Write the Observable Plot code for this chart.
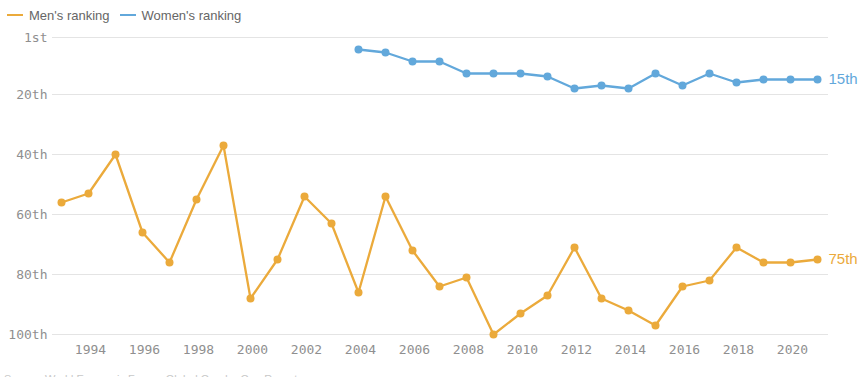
<!DOCTYPE html>
<html>
<head>
<meta charset="utf-8">
<script src="https://cdn.jsdelivr.net/npm/d3@7"></script>
<script src="https://cdn.jsdelivr.net/npm/@observablehq/plot@0.6"></script>
<style>
  html, body { margin: 0; padding: 0; background: #fff; }
  #legend { height: 28px; display: flex; align-items: center; font-family: "Liberation Sans", Arial, sans-serif; font-size: 13px; color: #666; padding-left: 7px; box-sizing: border-box; padding-top: 2px; }
  .sw { display: inline-block; width: 16px; height: 2px; margin-right: 6px; }
  .item { display: flex; align-items: center; margin-right: 10px; }
  #chart svg { display: block; }
  #caption { font-family: "Liberation Sans", Arial, sans-serif; font-size: 11px; color: #c8c8c8; padding-left: 4px; margin-top: 0px; }
</style>
</head>
<body>
<div id="legend"></div>
<div id="chart"></div>
<div id="caption">Source: World Economic Forum, Global Gender Gap Report</div>
<script>
const seriesNames = ["Men's ranking", "Women's ranking"];
const seriesColors = ["#EBAA3B", "#62A8DB"];
const menYears = [1993,1994,1995,1996,1997,1998,1999,2000,2001,2002,2003,2004,2005,2006,2007,2008,2009,2010,2011,2012,2013,2014,2015,2016,2017,2018,2019,2020,2021];
const menRank = [56,53,40,66,76,55,37,88,75,54,63,86,54,72,84,81,100,93,87,71,88,92,97,84,82,71,76,76,75];
const womenYears = [2004,2005,2006,2007,2008,2009,2010,2011,2012,2013,2014,2015,2016,2017,2018,2019,2020,2021];
const womenRank = [5,6,9,9,13,13,13,14,18,17,18,13,17,13,16,15,15,15];
const yTicks = [1,20,40,60,80,100];
const yTickLabels = ["1st","20th","40th","60th","80th","100th"];
const xTicks = [1994,1996,1998,2000,2002,2004,2006,2008,2010,2012,2014,2016,2018,2020];

// legend
const legend = document.getElementById("legend");
seriesNames.forEach((n, i) => {
  const it = document.createElement("span");
  it.className = "item";
  it.innerHTML = `<span class="sw" style="background:${seriesColors[i]}"></span><span>${n}</span>`;
  legend.appendChild(it);
});

const rows = [
  ...menYears.map((y, i) => ({series: seriesNames[0], year: y, rank: menRank[i]})),
  ...womenYears.map((y, i) => ({series: seriesNames[1], year: y, rank: womenRank[i]}))
];
const lastRows = seriesNames.map(s => rows.filter(d => d.series === s).slice(-1)[0]);
const ordinal = r => r === 1 ? "1st" : r === 2 ? "2nd" : r === 3 ? "3rd" : r + "th";

const plot = Plot.plot({
  width: 868,
  height: 345,
  marginTop: 9,
  marginBottom: 39,
  marginLeft: 52,
  marginRight: 40,
  x: {domain: [1993, 2021], insetLeft: 9, insetRight: 11},
  y: {domain: [1, 100], reverse: true},
  color: {domain: seriesNames, range: seriesColors},
  style: {fontFamily: "DejaVu Sans Mono, monospace", fontSize: "13px", color: "#8f8f8f", background: "#fff"},
  marks: [
    Plot.gridY(yTicks, {stroke: "#e4e4e4", strokeOpacity: 1, strokeWidth: 1}),
    Plot.axisY(yTicks, {tickSize: 0, tickPadding: 5, tickFormat: (d) => yTickLabels[yTicks.indexOf(d)], label: null, fill: "#8f8f8f"}),
    Plot.axisX(xTicks, {tickSize: 0, tickPadding: 10, tickFormat: d => String(d), label: null, fill: "#8f8f8f", dx: 2}),
    Plot.line(rows, {x: "year", y: "rank", z: "series", stroke: "series", strokeWidth: 2.3}),
    Plot.dot(rows, {x: "year", y: "rank", fill: "series", r: 4}),
    Plot.text(lastRows, {x: "year", y: "rank", text: d => ordinal(d.rank), fill: "series", textAnchor: "start", dx: 11, fontSize: 15, fontWeight: 500, fontFamily: "Liberation Sans, Arial, sans-serif"})
  ]
});
document.getElementById("chart").appendChild(plot);
</script>
</body>
</html>
